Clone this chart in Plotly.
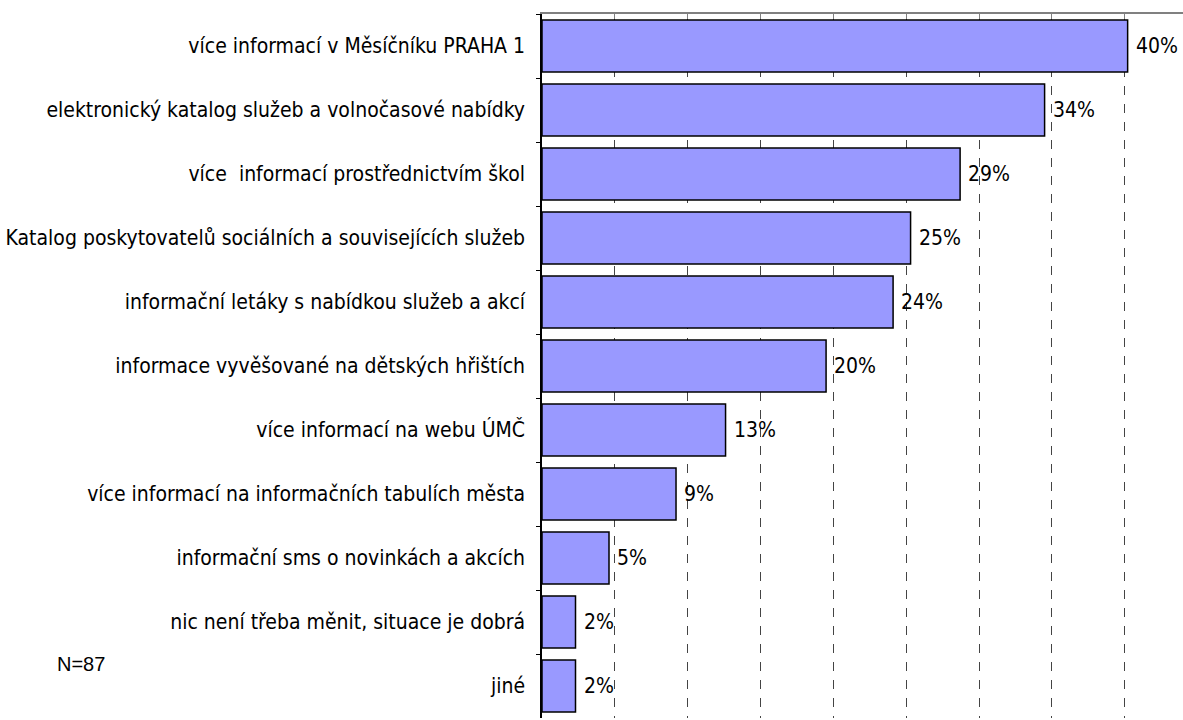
import plotly.graph_objects as go

categories = [
    "více informací v Měsíčníku PRAHA 1",
    "elektronický katalog služeb a volnočasové nabídky",
    "více  informací prostřednictvím škol",
    "Katalog poskytovatelů sociálních a souvisejících služeb",
    "informační letáky s nabídkou služeb a akcí",
    "informace vyvěšované na dětských hřištích",
    "více informací na webu ÚMČ",
    "více informací na informačních tabulích města",
    "informační sms o novinkách a akcích",
    "nic není třeba měnit, situace je dobrá",
    "jiné",
]
values = [40.2, 34.5, 28.7, 25.3, 24.1, 19.5, 12.6, 9.2, 4.6, 2.3, 2.3]
value_labels = ["40%", "34%", "29%", "25%", "24%", "20%", "13%", "9%", "5%", "2%", "2%"]
note = "N=87"

FONT = "DejaVu Sans Condensed, Tahoma, DejaVu Sans, sans-serif"

fig = go.Figure()
fig.add_trace(go.Bar(
    x=values, y=categories, orientation="h",
    marker=dict(color="#9999ff", line=dict(color="black", width=1.5)),
    width=0.81,
    hoverinfo="skip",
))

for v, c, t in zip(values, categories, value_labels):
    fig.add_annotation(x=v, y=c, text=t, showarrow=False, xanchor="left",
                       xshift=6, font=dict(size=21, color="black", family=FONT))

# sample size note, left of the category labels
fig.add_annotation(xref="paper", yref="paper", x=-0.759, y=0.077, text=note,
                   showarrow=False, xanchor="left", yanchor="middle",
                   font=dict(size=20, color="black", family="Liberation Sans, Arial"))

fig.update_layout(
    width=1183, height=720,
    margin=dict(l=542, r=0, t=14, b=2),
    paper_bgcolor="white", plot_bgcolor="white",
    font=dict(family=FONT, size=21, color="black"),
    showlegend=False,
    xaxis=dict(
        range=[0, 44], side="top", dtick=5, showticklabels=False,
        showgrid=True, gridcolor="#444444", griddash="dash", gridwidth=1,
        showline=True, linecolor="#808080", linewidth=2,
        ticks="inside", ticklen=5, tickcolor="#808080", zeroline=False,
    ),
    yaxis=dict(
        autorange="reversed", showline=True, linecolor="black", linewidth=1.5,
        ticks="outside", ticklen=4, tickcolor="black", tickson="boundaries",
        ticklabelstandoff=11, showgrid=False,
    ),
)

fig.write_html("out.html", config={"displayModeBar": False},
               post_script="document.body.style.margin='0';")
